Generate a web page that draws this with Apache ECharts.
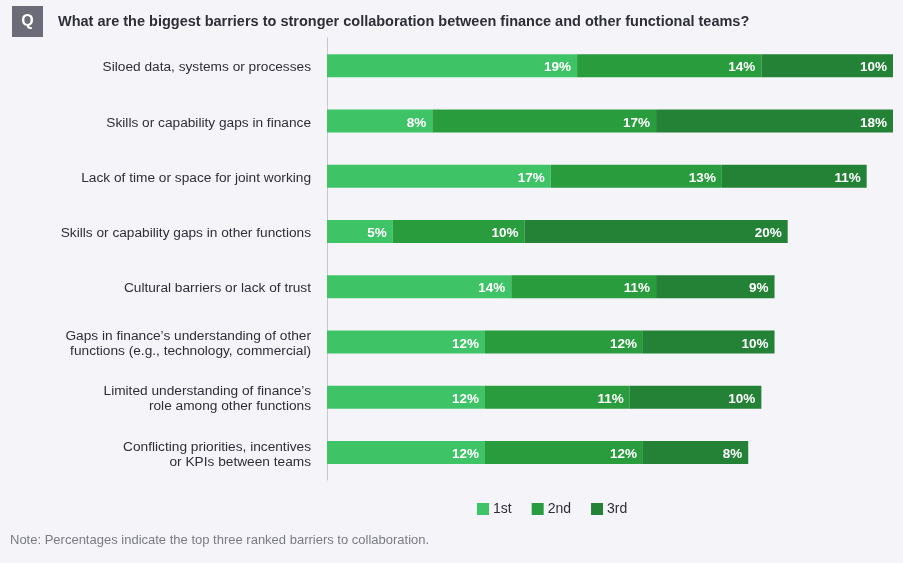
<!DOCTYPE html>
<html><head><meta charset="utf-8">
<script src="https://cdn.jsdelivr.net/npm/echarts@6/dist/echarts.min.js"></script>
<style>html,body{margin:0;padding:0;background:#f5f5f9;}#c{width:903px;height:563px;}</style>
</head><body><div id="c"></div>
<script>
const categories = [
  "Siloed data, systems or processes",
  "Skills or capability gaps in finance",
  "Lack of time or space for joint working",
  "Skills or capability gaps in other functions",
  "Cultural barriers or lack of trust",
  "Gaps in finance’s understanding of other\nfunctions (e.g., technology, commercial)",
  "Limited understanding of finance’s\nrole among other functions",
  "Conflicting priorities, incentives\nor KPIs between teams"
];
const first = [19, 8, 17, 5, 14, 12, 12, 12];
const second = [14, 17, 13, 10, 11, 12, 11, 12];
const third = [10, 18, 11, 20, 9, 10, 10, 8];
const seriesNames = ["1st", "2nd", "3rd"];
const colors = ["#3fc367", "#299c3e", "#238236"];
const title = "What are the biggest barriers to stronger collaboration between finance and other functional teams?";
const note = "Note: Percentages indicate the top three ranked barriers to collaboration.";

const font = "'Liberation Sans', Arial, sans-serif";
const chart = echarts.init(document.getElementById('c'));
const mk = (name, data, i) => ({
  name, type: 'bar', stack: 'total', data, barWidth: 23,
  itemStyle: { color: colors[i] },
  label: { show: true, position: 'insideRight', formatter: '{c}%', color: '#fff',
    fontWeight: 'bold', fontSize: 13.5, fontFamily: font, offset: [-1, 2] },
  emphasis: { disabled: true }
});
chart.setOption({
  backgroundColor: '#f5f5f9',
  animation: false,
  grid: { left: 327, right: 10, top: 38, bottom: 83, containLabel: false },
  xAxis: { type: 'value', min: 0, max: 43, show: false },
  yAxis: { type: 'category', data: categories, inverse: true,
    axisLine: { show: true, lineStyle: { color: '#c8c8cc', width: 1 } },
    axisTick: { show: false },
    axisLabel: { margin: 16, align: 'right',
      formatter: v => v.split('\n').map(l => '{a|' + l + '}').join('\n'),
      rich: { a: { color: '#2e2e38', fontSize: 13.7, fontFamily: font, lineHeight: 15, padding: [4, 0, 0, 0] } } } },
  legend: { data: seriesNames, left: 472, top: 497, itemWidth: 12, itemHeight: 12, itemGap: 20,
    icon: 'rect', textStyle: { color: '#2e2e38', fontSize: 14, fontFamily: font, padding: [0,0,0,-1] } },
  graphic: [
    { type: 'rect', shape: { x: 12, y: 6, width: 31, height: 31 }, style: { fill: '#6c6c78' } },
    { type: 'text', style: { x: 27.5, y: 22, text: 'Q', fill: '#fff', font: "bold 16px " + font, align: 'center', verticalAlign: 'middle' } },
    { type: 'text', style: { x: 58, y: 22, text: title, fill: '#2e2e38', font: "bold 14.5px " + font, verticalAlign: 'middle' } },
    { type: 'text', style: { x: 10, y: 540, text: note, fill: '#7a7a84', font: "13px " + font, verticalAlign: 'middle' } }
  ],
  series: [mk(seriesNames[0], first, 0), mk(seriesNames[1], second, 1), mk(seriesNames[2], third, 2)]
});
</script></body></html>
